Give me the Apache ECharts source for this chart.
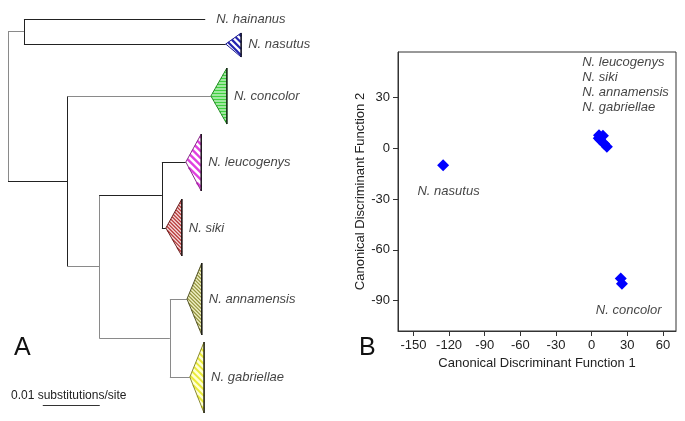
<!DOCTYPE html>
<html><head><meta charset="utf-8">
<script src="https://cdn.jsdelivr.net/npm/echarts@6/dist/echarts.min.js"></script>
<style>html,body{margin:0;padding:0;background:#fff}#c{width:685px;height:421px}</style>
</head><body><div id="c"></div>
<script>
// ---------- Panel A: phylogenetic tree (branch lengths in substitutions/site) ----------
const cladeNames  = ['N. hainanus', 'N. nasutus', 'N. concolor', 'N. leucogenys', 'N. siki', 'N. annamensis', 'N. gabriellae'];
const stemDepth   = [0.0346, 0.0382, 0.0356, 0.0312, 0.0277, 0.0314, 0.0319];   // depth of leaf / collapsed-clade tip
const crownDepth  = [null,   0.0409, 0.0384, 0.0339, 0.0305, 0.0340, 0.0344];   // depth of deepest member of collapsed clade
const cladeRow    = [1.93, 4.4, 9.6, 16.2, 22.8, 29.9, 37.7];                   // vertical ordering (rows)
const cladeTop    = [null, 3.3, 6.8, 13.4, 19.9, 26.3, 34.2];
const cladeBottom = [null, 5.7, 12.4, 19.1, 25.6, 33.5, 41.3];
const nodeNames    = ['root', 'HN', 'C', 'D', 'LS', 'AG'];
const nodeDepth    = [0, 0.0028, 0.0104, 0.0160, 0.0270, 0.0284];
const nodeChildren = [['HN', 'C'], ['N. hainanus', 'N. nasutus'], ['N. concolor', 'D'], ['LS', 'AG'], ['N. leucogenys', 'N. siki'], ['N. annamensis', 'N. gabriellae']];
const scaleBarLength = 0.01;
const scaleBarLabel = '0.01 substitutions/site';

// ---------- Panel B: canonical discriminant analysis ----------
const cdaNasutus  = [[-125, -10]];
const cdaCluster  = [[6.2, 7.8], [9.5, 7.5], [7.2, 5.1], [10.5, 2.8], [12.8, 0.9], [6, 6]];
const cdaConcolor = [[24.5, -77], [25.5, -80]];
const xTicks = [-150, -120, -90, -60, -30, 0, 30, 60];
const yTicks = [30, 0, -30, -60, -90];
const xTitle = 'Canonical Discriminant Function 1';
const yTitle = 'Canonical Discriminant Function 2';
const groupLabels = [
  { name: 'N. leucogenys', value: [-8, 50.9] },
  { name: 'N. siki', value: [-8, 42.0] },
  { name: 'N. annamensis', value: [-8, 33.0] },
  { name: 'N. gabriellae', value: [-8, 24.1] },
  { name: 'N. nasutus', value: [-146.6, -25.4] },
  { name: 'N. concolor', value: [3.5, -96.0] }
];

// ---------- styles ----------
const FONT = '"Liberation Sans", Arial, sans-serif';
const BLACK = '#222', GRAY = '#8a8a8a';
const grayEdges = { 'HN': 1, 'N. concolor': 1, 'D': 1, 'AG': 1, 'N. annamensis': 1, 'N. gabriellae': 1 };
const grayVerticals = { 'root': 1, 'D': 1, 'AG': 1 };
const cladeStyle = {
  'N. nasutus':    { bg: '#ffffff', fg: '#2323b0', period: 4.5, width: 2.2, dir: '\\', stroke: '#1a1a90' },
  'N. concolor':   { bg: '#ffffff', fg: '#3fd03f', period: 3.0, width: 2.0, dir: 'h',  stroke: '#1f8a1f' },
  'N. leucogenys': { bg: '#ffffff', fg: '#e040e0', period: 5.0, width: 2.4, dir: '\\', stroke: '#8a2a8a' },
  'N. siki':       { bg: '#f6dddd', fg: '#b83a3a', period: 2.6, width: 1.3, dir: '\\', stroke: '#6a2020' },
  'N. annamensis': { bg: '#f0f0c4', fg: '#94943e', period: 2.6, width: 1.2, dir: '\\', stroke: '#55552a' },
  'N. gabriellae': { bg: '#ffffd4', fg: '#eaea38', period: 4.5, width: 2.0, dir: '\\', stroke: '#8a8a30' }
};

// clip a family of parallel stripes to a convex polygon (pixel space)
function stripeLines(poly, st) {
  let n;
  if (st.dir === 'h') n = [0, 1];
  else if (st.dir === '\\') n = [-Math.SQRT1_2, Math.SQRT1_2];
  else n = [Math.SQRT1_2, Math.SQRT1_2];
  const proj = p => n[0] * p[0] + n[1] * p[1];
  const vals = poly.map(proj);
  const cmin = Math.min.apply(null, vals), cmax = Math.max.apply(null, vals);
  const out = [];
  for (let c = cmin + st.period / 2; c < cmax; c += st.period) {
    const pts = [];
    for (let i = 0; i < poly.length; i++) {
      const a = poly[i], b = poly[(i + 1) % poly.length];
      const fa = proj(a) - c, fb = proj(b) - c;
      if (fa === fb) continue;
      if ((fa <= 0 && fb >= 0) || (fa >= 0 && fb <= 0)) {
        const t = fa / (fa - fb);
        pts.push([a[0] + t * (b[0] - a[0]), a[1] + t * (b[1] - a[1])]);
      }
    }
    if (pts.length >= 2) {
      let best = [pts[0], pts[1]], bd = -1;
      for (let i = 0; i < pts.length; i++) for (let j = i + 1; j < pts.length; j++) {
        const d = Math.hypot(pts[i][0] - pts[j][0], pts[i][1] - pts[j][1]);
        if (d > bd) { bd = d; best = [pts[i], pts[j]]; }
      }
      out.push({ type: 'line', shape: { x1: best[0][0], y1: best[0][1], x2: best[1][0], y2: best[1][1] },
                 style: { stroke: st.fg, lineWidth: st.width } });
    }
  }
  return out;
}

// ---------- build tree geometry from data ----------
const rowOf = {}, depthOf = {};
cladeNames.forEach((n, i) => { rowOf[n] = cladeRow[i]; depthOf[n] = stemDepth[i]; });
function nodeRow(name) {
  if (rowOf[name] !== undefined) return rowOf[name];
  const i = nodeNames.indexOf(name);
  depthOf[name] = nodeDepth[i];
  const r = (nodeRow(nodeChildren[i][0]) + nodeRow(nodeChildren[i][1])) / 2;
  rowOf[name] = r;
  return r;
}
nodeRow('root');
const edges = [];
nodeNames.forEach((n, i) => {
  const d = nodeDepth[i];
  const [a, b] = nodeChildren[i];
  edges.push({ coords: [[d, rowOf[a]], [d, rowOf[b]]], lineStyle: { color: grayVerticals[n] ? GRAY : BLACK } });
  [a, b].forEach(ch => {
    edges.push({ coords: [[d, rowOf[ch]], [depthOf[ch], rowOf[ch]]], lineStyle: { color: grayEdges[ch] ? GRAY : BLACK } });
  });
});
const triangleData = [];
cladeNames.forEach((n, i) => {
  if (crownDepth[i] !== null) triangleData.push({ name: n, value: [stemDepth[i], cladeRow[i], crownDepth[i], cladeTop[i], cladeBottom[i]] });
});
const treeLabels = cladeNames.map((n, i) => ({
  name: n,
  value: [crownDepth[i] !== null ? crownDepth[i] : stemDepth[i], cladeRow[i]],
  label: { distance: crownDepth[i] !== null ? 7 : 11 }
}));
const scaleStart = 0.0061, scaleRow = 40.57;

const chart = echarts.init(document.getElementById('c'), null, { renderer: 'canvas', width: 685, height: 421 });
const italicLabel = { show: true, position: 'right', distance: 0, formatter: '{b}', fontFamily: FONT, fontStyle: 'italic', fontSize: 13, color: '#111' };
const diamondStyle = { color: '#0000ff', opacity: 1 };

chart.setOption({
  animation: false,
  backgroundColor: '#ffffff',
  grid: [
    { left: 8, top: 0, width: 256.5, height: 421, outerBoundsMode: 'none', containLabel: false },
    { left: 398, top: 52, width: 278, height: 279, outerBoundsMode: 'none', containLabel: false,
      show: true, borderColor: '#333', borderWidth: 1, backgroundColor: 'transparent' }
  ],
  xAxis: [
    { gridIndex: 0, type: 'value', min: 0, max: 0.045, show: false },
    { gridIndex: 1, type: 'value', min: -163, max: 71,
      axisLine: { show: true, onZero: false, lineStyle: { color: '#333' } },
      axisTick: { show: true, length: 5, inside: false, customValues: xTicks, lineStyle: { color: '#333' } },
      axisLabel: { show: true, customValues: xTicks, margin: 8, fontFamily: FONT, fontSize: 13, color: '#222' },
      splitLine: { show: false },
      name: xTitle, nameLocation: 'middle', nameGap: 25,
      nameTextStyle: { fontFamily: FONT, fontSize: 13, color: '#222' } }
  ],
  yAxis: [
    { gridIndex: 0, type: 'value', min: 0, max: 42.1, inverse: true, show: false },
    { gridIndex: 1, type: 'value', min: -108, max: 57,
      axisLine: { show: true, onZero: false, lineStyle: { color: '#333' } },
      axisTick: { show: true, length: 5, inside: false, customValues: yTicks, lineStyle: { color: '#333' } },
      axisLabel: { show: true, customValues: yTicks, margin: 8, fontFamily: FONT, fontSize: 13, color: '#222' },
      splitLine: { show: false },
      name: yTitle, nameLocation: 'middle', nameGap: 30,
      nameTextStyle: { fontFamily: FONT, fontSize: 13, color: '#222' } }
  ],
  graphic: [
    { type: 'text', left: 14, top: 336, style: { text: 'A', fontFamily: FONT, fontSize: 25, fill: '#111' } },
    { type: 'text', left: 359, top: 336, style: { text: 'B', fontFamily: FONT, fontSize: 25, fill: '#111' } },
    { type: 'text', left: 11, top: 390, style: { text: scaleBarLabel, fontFamily: FONT, fontSize: 12, fill: '#222' } }
  ],
  series: [
    { type: 'lines', coordinateSystem: 'cartesian2d', xAxisIndex: 0, yAxisIndex: 0, polyline: false, silent: true,
      lineStyle: { width: 1, opacity: 1 }, data: edges },
    { type: 'lines', coordinateSystem: 'cartesian2d', xAxisIndex: 0, yAxisIndex: 0, silent: true,
      lineStyle: { width: 1, color: '#333', opacity: 1 },
      data: [{ coords: [[scaleStart, scaleRow], [scaleStart + scaleBarLength, scaleRow]] }] },
    { type: 'custom', coordinateSystem: 'cartesian2d', xAxisIndex: 0, yAxisIndex: 0, silent: true, clip: false,
      encode: { x: [0, 2], y: [1, 3, 4] },
      data: triangleData,
      renderItem: function (params, api) {
        const name = triangleData[params.dataIndex].name;
        const st = cladeStyle[name];
        const tip = api.coord([api.value(0), api.value(1)]);
        const top = api.coord([api.value(2), api.value(3)]);
        const bot = api.coord([api.value(2), api.value(4)]);
        const poly = [tip, top, bot];
        const children = [{ type: 'polygon', shape: { points: poly }, style: { fill: st.bg, stroke: null } }];
        stripeLines(poly, st).forEach(l => children.push(l));
        children.push({ type: 'polygon', shape: { points: poly }, style: { fill: null, stroke: st.stroke, lineWidth: 1 } });
        children.push({ type: 'line', shape: { x1: top[0], y1: top[1], x2: bot[0], y2: bot[1] }, style: { stroke: '#111', lineWidth: 1.3 } });
        return { type: 'group', children: children };
      } },
    { type: 'scatter', xAxisIndex: 0, yAxisIndex: 0, symbolSize: 0, silent: true,
      label: italicLabel, data: treeLabels },
    { type: 'scatter', xAxisIndex: 1, yAxisIndex: 1, symbol: 'diamond', symbolSize: 12, silent: true,
      itemStyle: diamondStyle, data: cdaNasutus },
    { type: 'scatter', xAxisIndex: 1, yAxisIndex: 1, symbol: 'diamond', symbolSize: 12, silent: true,
      itemStyle: diamondStyle, data: cdaCluster },
    { type: 'scatter', xAxisIndex: 1, yAxisIndex: 1, symbol: 'diamond', symbolSize: 12, silent: true,
      itemStyle: diamondStyle, data: cdaConcolor },
    { type: 'scatter', xAxisIndex: 1, yAxisIndex: 1, symbolSize: 0, silent: true,
      label: italicLabel, data: groupLabels }
  ]
});
</script></body></html>
